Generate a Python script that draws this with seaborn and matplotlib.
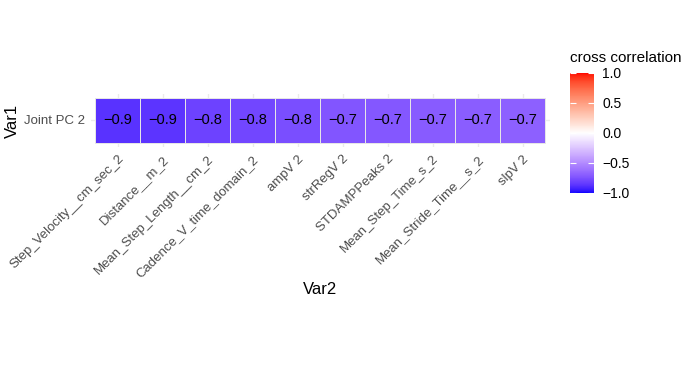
# cross correlation heatmap (Joint PC 2 vs gait variables)

import numpy as np
import pandas as pd
import matplotlib
matplotlib.use("Agg")
import matplotlib.pyplot as plt
import seaborn as sns
from matplotlib.colors import ListedColormap

# 데이터
var1 = ["Joint PC 2"]
var2 = ["Step_Velocity__cm_sec_2", "Distance__m_2", "Mean_Step_Length__cm_2",
        "Cadence_V_time_domain_2", "ampV 2", "strRegV 2", "STDAMPPeaks 2",
        "Mean_Step_Time_s_2", "Mean_Stride_Time__s_2", "slpV 2"]
corr_values = [-0.87, -0.86, -0.81, -0.79, -0.76, -0.73, -0.72, -0.71, -0.70, -0.68]
cbar_ticks = [-1.0, -0.5, 0.0, 0.5, 1.0]

df = pd.DataFrame([corr_values], index=var1, columns=var2)


# blue - white - red gradient interpolated in Lab (like ggplot's gradient2)
def srgb_to_lab(rgb):
    rgb = np.asarray(rgb, float)
    lin = np.where(rgb <= 0.04045, rgb / 12.92, ((rgb + 0.055) / 1.055) ** 2.4)
    m = np.array([[0.4124, 0.3576, 0.1805],
                  [0.2126, 0.7152, 0.0722],
                  [0.0193, 0.1192, 0.9505]])
    xyz = m @ lin / np.array([0.95047, 1.0, 1.08883])
    f = np.where(xyz > 0.008856, np.cbrt(xyz), 7.787 * xyz + 16 / 116)
    return np.array([116 * f[1] - 16, 500 * (f[0] - f[1]), 200 * (f[1] - f[2])])


def lab_to_srgb(lab):
    L, a, b = lab
    fy = (L + 16) / 116
    fx = fy + a / 500
    fz = fy - b / 200
    f = np.array([fx, fy, fz])
    xyz = np.where(f ** 3 > 0.008856, f ** 3, (f - 16 / 116) / 7.787)
    xyz = xyz * np.array([0.95047, 1.0, 1.08883])
    minv = np.array([[3.2406, -1.5372, -0.4986],
                     [-0.9689, 1.8758, 0.0415],
                     [0.0557, -0.2040, 1.0570]])
    lin = minv @ xyz
    lin = np.clip(lin, 0, 1)
    rgb = np.where(lin <= 0.0031308, 12.92 * lin, 1.055 * lin ** (1 / 2.4) - 0.055)
    return np.clip(rgb, 0, 1)


low, mid, high = srgb_to_lab([0, 0, 1]), srgb_to_lab([1, 1, 1]), srgb_to_lab([1, 0, 0])
colors = []
for t in np.linspace(0, 1, 256):
    if t < 0.5:
        lab = low + (mid - low) * (t / 0.5)
    else:
        lab = mid + (high - mid) * ((t - 0.5) / 0.5)
    colors.append(lab_to_srgb(lab))
cmap = ListedColormap(colors)

plt.rcParams["font.family"] = ["Liberation Sans", "DejaVu Sans"]

fig = plt.figure(figsize=(6.99, 3.92), dpi=100)
W, H = 699, 392
ax = fig.add_axes([90.5 / W, 1 - 147.5 / H, 459 / W, 54 / H])
cax = fig.add_axes([570 / W, 1 - 193 / H, 24 / W, 120 / H])

labels = np.array([[f"{v:.1f}".replace("-", "\u2212") for v in corr_values]])
sns.heatmap(df, cmap=cmap, vmin=-1, vmax=1, annot=labels, fmt="",
            annot_kws={"color": "black", "fontsize": 10.5},
            linewidths=0.6, linecolor="#e6e6e6", cbar_ax=cax, ax=ax,
            cbar_kws={"ticks": cbar_ticks})

ax.set_xlim(-0.1, 10.1)
ax.set_ylim(1.1, -0.1)
ax.set_aspect("auto")
ax.set_position([90.5 / W, 1 - 147.5 / H, 459 / W, 54 / H])
ax.set_axisbelow(True)
ax.grid(True, color="#ebebeb", linewidth=1)
for s in ax.spines.values():
    s.set_visible(False)
ax.tick_params(axis="both", length=0, colors="#4d4d4d", labelsize=9.5)
ax.tick_params(axis="x", pad=4)
ax.tick_params(axis="y", pad=4)
plt.setp(ax.get_xticklabels(), rotation=45, ha="right", rotation_mode="anchor")
plt.setp(ax.get_yticklabels(), rotation=0)
ax.set_xlabel("")
ax.set_ylabel("")

fig.text(320 / W, 1 - 290 / H, "Var2", ha="center", va="center", fontsize=12)
fig.text(12 / W, 1 - 121 / H, "Var1", ha="center", va="center", fontsize=12, rotation=90)

cbar = ax.collections[0].colorbar
cbar.outline.set_visible(False)
cbar.set_ticklabels(["\u22121.0", "\u22120.5", "0.0", "0.5", "1.0"])
cax.tick_params(axis="y", direction="in", length=4, color="white", width=0.8,
                left=True, right=True, labelsize=10, labelcolor="black", pad=6)
cax.set_title("cross correlation", loc="left", fontsize=11, pad=8)

fig.savefig("out.png", dpi=100, facecolor="white")
